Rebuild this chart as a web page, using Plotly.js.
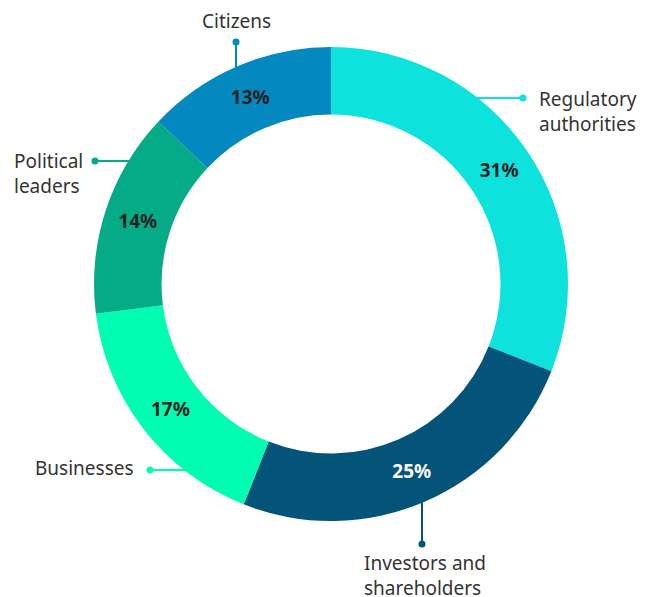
<!DOCTYPE html>
<html><head><meta charset="utf-8">
<script src="https://cdn.plot.ly/plotly-3.0.1.min.js"></script>
<style>html,body{margin:0;padding:0;background:#fff}#chart{width:654px;height:597px}</style>
</head><body><div id="chart"></div>
<script>
const categories = ["Regulatory authorities", "Investors and shareholders", "Businesses", "Political leaders", "Citizens"];
const labelTexts = ["Regulatory<br>authorities", "Investors and<br>shareholders", "Businesses", "Political<br>leaders", "Citizens"];
const shares = [31, 25, 17, 14, 13];
const colors = ["#0de3dc", "#04547a", "#00fdb2", "#05aa86", "#0488c0"];
const pctColors = ["#222222", "#ffffff", "#222222", "#222222", "#222222"];

const W = 654, H = 597;
const cx = 331, cy = 284, R = 237;
const fx = x => x / W, fy = y => 1 - y / H;

const leaders = [
  {dir: 'h', y: 98, end: 523, side: 1, tx: 537, ty: 112, xa: 'left'},
  {dir: 'v', x: 422, end: 544, side: 1, tx: 362, ty: 575, xa: 'left'},
  {dir: 'h', y: 470, end: 150, side: -1, tx: 136, ty: 468, xa: 'right'},
  {dir: 'h', y: 161, end: 95, side: -1, tx: 85, ty: 173, xa: 'right'},
  {dir: 'v', x: 236, end: 42, side: -1, tx: 236, ty: 21, xa: 'center'}
];

const shapes = [], annotations = [];
leaders.forEach((L, i) => {
  let x0, y0, x1, y1;
  if (L.dir === 'h') {
    const dy = L.y - cy;
    x0 = cx + L.side * Math.sqrt(R * R - dy * dy) - L.side * 3; y0 = L.y; x1 = L.end; y1 = L.y;
  } else {
    const dx = L.x - cx;
    x0 = L.x; y0 = cy + L.side * Math.sqrt(R * R - dx * dx) - L.side * 3; x1 = L.x; y1 = L.end;
  }
  shapes.push({type: 'line', xref: 'paper', yref: 'paper', x0: fx(x0), y0: fy(y0), x1: fx(x1), y1: fy(y1),
    line: {color: colors[i], width: 2}});
  shapes.push({type: 'circle', xref: 'paper', yref: 'paper', x0: fx(x1 - 3.5), x1: fx(x1 + 3.5), y0: fy(y1 - 3.5), y1: fy(y1 + 3.5),
    fillcolor: colors[i], line: {width: 0}});
  annotations.push({xref: 'paper', yref: 'paper', x: fx(L.tx), y: fy(L.ty), xanchor: L.xa, yanchor: 'middle',
    text: labelTexts[i], showarrow: false, align: L.xa === 'center' ? 'center' : 'left',
    font: {family: 'Noto Sans, Open Sans, sans-serif', size: 19, color: '#333333'}});
});

const trace = {
  type: 'pie', labels: categories, values: shares, sort: false, direction: 'clockwise', rotation: 0,
  hole: 0.715,
  marker: {colors: colors, line: {width: 0}},
  texttemplate: '<b>%{value}%</b>', textposition: 'inside', insidetextorientation: 'horizontal',
  insidetextfont: {family: 'Noto Sans, Open Sans, sans-serif', size: 19, color: pctColors},
  domain: {x: [fx(cx - R), fx(cx + R)], y: [fy(cy + R), fy(cy - R)]},
  showlegend: false, hoverinfo: 'label+percent'
};

Plotly.newPlot('chart', [trace], {
  width: W, height: H, margin: {l: 0, r: 0, t: 0, b: 0},
  paper_bgcolor: '#ffffff', showlegend: false, shapes: shapes, annotations: annotations
}, {displayModeBar: false});
</script></body></html>
